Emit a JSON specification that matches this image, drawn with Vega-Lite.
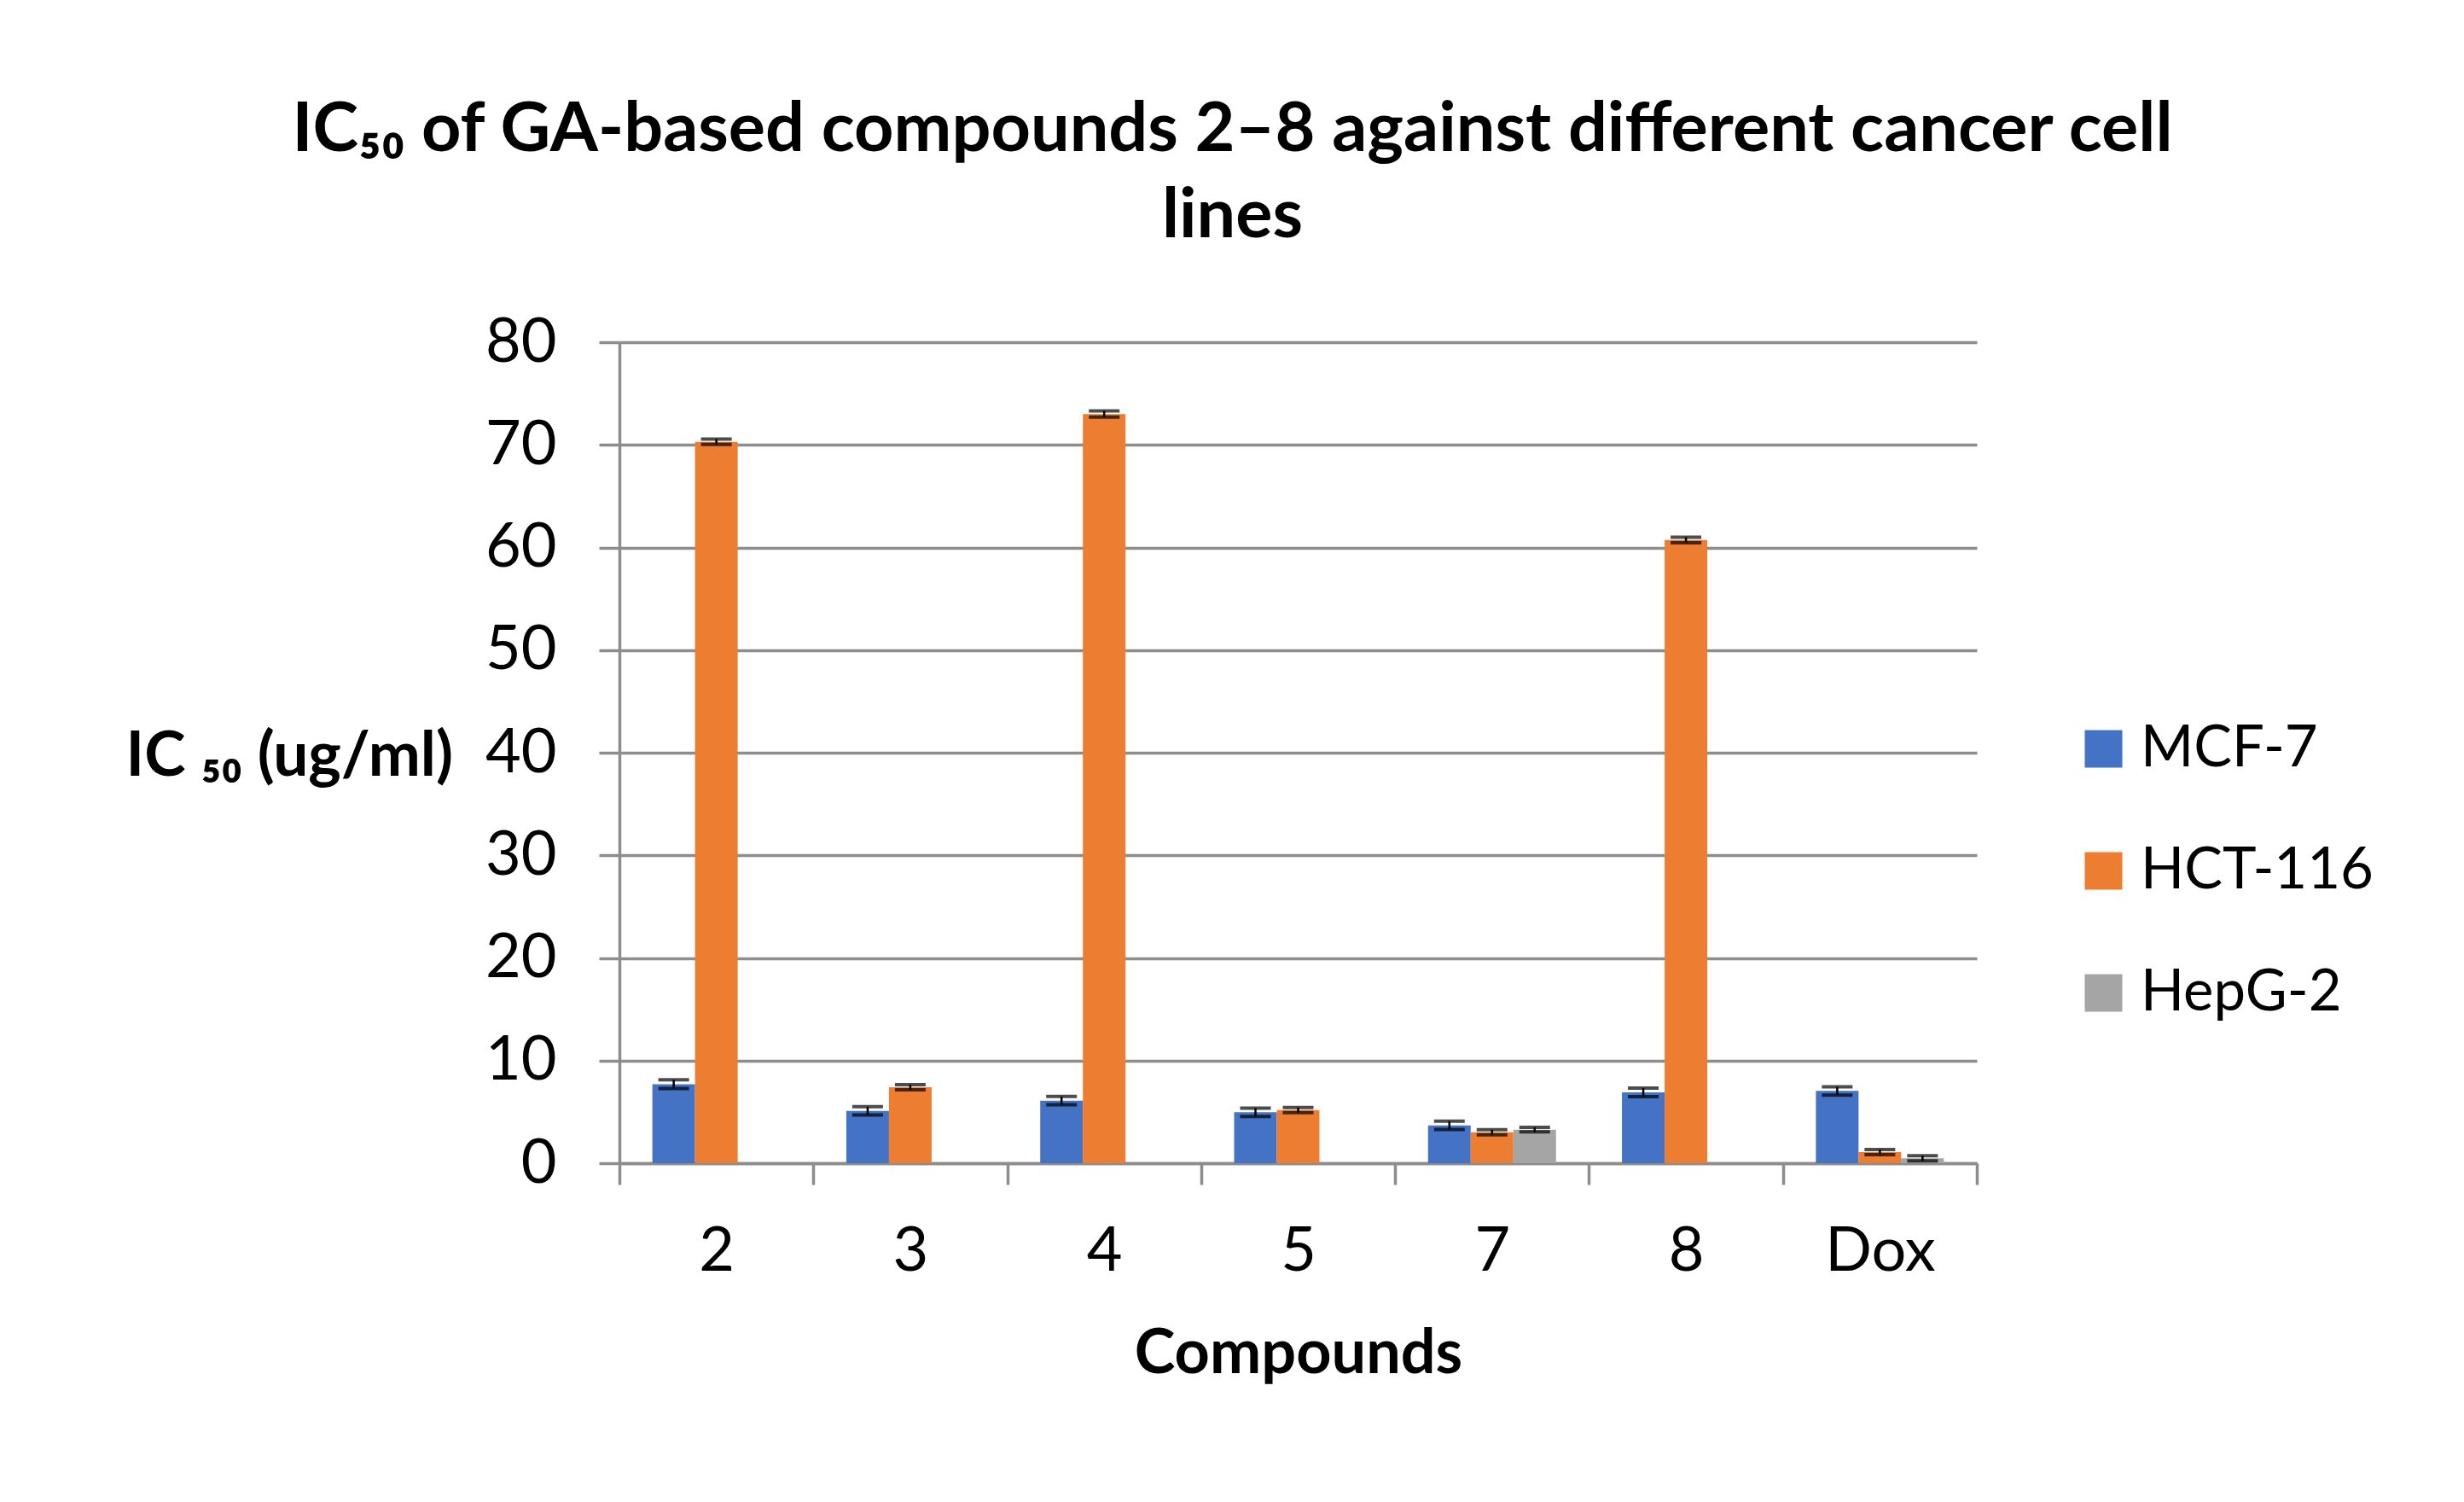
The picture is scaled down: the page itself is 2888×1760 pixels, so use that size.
{
  "$schema": "https://vega.github.io/schema/vega-lite/v6.json",
  "width": 1591,
  "height": 962,
  "autosize": {"type": "none"},
  "padding": {"left": 726, "top": 401, "right": 571, "bottom": 397},
  "background": "white",
  "title": {
    "text": ["IC₅₀ of GA-based compounds 2–8 against different cancer cell", "lines"],
    "font": "Lato",
    "fontWeight": "bold",
    "fontSize": 81,
    "lineHeight": 101,
    "color": "black",
    "anchor": "middle",
    "frame": "group",
    "dx": -77,
    "offset": 70
  },
  "data": {
    "values": [
      {"compound": "2", "line": "MCF-7", "value": 7.70, "lo": 7.28, "hi": 8.12},
      {"compound": "2", "line": "HCT-116", "value": 70.3, "lo": 70.04, "hi": 70.56},
      {"compound": "3", "line": "MCF-7", "value": 5.10, "lo": 4.70, "hi": 5.50},
      {"compound": "3", "line": "HCT-116", "value": 7.40, "lo": 7.15, "hi": 7.65},
      {"compound": "4", "line": "MCF-7", "value": 6.10, "lo": 5.70, "hi": 6.50},
      {"compound": "4", "line": "HCT-116", "value": 73.0, "lo": 72.7, "hi": 73.3},
      {"compound": "5", "line": "MCF-7", "value": 4.96, "lo": 4.56, "hi": 5.36},
      {"compound": "5", "line": "HCT-116", "value": 5.18, "lo": 4.93, "hi": 5.43},
      {"compound": "7", "line": "MCF-7", "value": 3.69, "lo": 3.29, "hi": 4.09},
      {"compound": "7", "line": "HCT-116", "value": 3.02, "lo": 2.77, "hi": 3.27},
      {"compound": "7", "line": "HepG-2", "value": 3.27, "lo": 3.05, "hi": 3.49},
      {"compound": "8", "line": "MCF-7", "value": 6.90, "lo": 6.48, "hi": 7.32},
      {"compound": "8", "line": "HCT-116", "value": 60.73, "lo": 60.46, "hi": 61.0},
      {"compound": "Dox", "line": "MCF-7", "value": 7.04, "lo": 6.64, "hi": 7.44},
      {"compound": "Dox", "line": "HCT-116", "value": 1.08, "lo": 0.83, "hi": 1.33},
      {"compound": "Dox", "line": "HepG-2", "value": 0.48, "lo": 0.23, "hi": 0.73}
    ]
  },
  "encoding": {
    "x": {
      "field": "compound",
      "type": "nominal",
      "sort": ["2", "3", "4", "5", "7", "8", "Dox"],
      "scale": {"paddingInner": 0, "paddingOuter": 0},
      "axis": {
        "title": "Compounds",
        "titleFont": "Lato",
        "titleFontWeight": "bold",
        "titleFontSize": 72,
        "titleColor": "black",
        "titleBaseline": "alphabetic",
        "titleY": 245,
        "labelAngle": 0,
        "labelFont": "Lato",
        "labelFontSize": 72,
        "labelColor": "black",
        "labelBaseline": "alphabetic",
        "labelPadding": 100,
        "tickBand": "extent",
        "tickSize": 25,
        "tickWidth": 3.5,
        "tickColor": "#8d8d8d",
        "domainColor": "#8d8d8d",
        "domainWidth": 3.5,
        "grid": false
      }
    },
    "xOffset": {
      "field": "line",
      "type": "nominal",
      "sort": ["MCF-7", "HCT-116", "HepG-2"],
      "scale": {"domain": ["MCF-7", "HCT-116", "HepG-2"], "paddingInner": 0, "paddingOuter": 0.773}
    }
  },
  "layer": [
    {
      "mark": {"type": "bar"},
      "encoding": {
        "y": {
          "field": "value",
          "type": "quantitative",
          "scale": {"domain": [0, 80], "nice": false},
          "axis": {
            "title": "IC ₅₀ (ug/ml)",
            "titleAngle": 0,
            "titleAlign": "left",
            "titleBaseline": "alphabetic",
            "titleX": -579,
            "titleY": 507,
            "titleFont": "Lato",
            "titleFontWeight": "bold",
            "titleFontSize": 73,
            "titleColor": "black",
            "values": [0, 10, 20, 30, 40, 50, 60, 70, 80],
            "labelFont": "Lato",
            "labelFontSize": 72,
            "labelColor": "black",
            "labelPadding": 50,
            "tickSize": 24,
            "tickWidth": 3.5,
            "tickColor": "#8d8d8d",
            "domainColor": "#8d8d8d",
            "domainWidth": 3.5,
            "grid": true,
            "gridColor": "#8d8d8d",
            "gridWidth": 3.5
          }
        },
        "color": {
          "field": "line",
          "type": "nominal",
          "scale": {"domain": ["MCF-7", "HCT-116", "HepG-2"], "range": ["#4472C4", "#ED7D31", "#A5A5A5"]},
          "legend": {
            "title": null,
            "orient": "none",
            "legendX": 1706,
            "legendY": 443,
            "symbolType": "square",
            "symbolSize": 1936,
            "symbolStrokeWidth": 0,
            "labelFont": "Lato",
            "labelFontSize": 67,
            "labelColor": "black",
            "labelOffset": 10,
            "labelLimit": 600,
            "rowPadding": 75,
            "padding": 0
          }
        }
      }
    },
    {
      "mark": {"type": "rule", "color": "black", "strokeWidth": 2.5},
      "encoding": {
        "y": {"field": "lo", "type": "quantitative"},
        "y2": {"field": "hi"}
      }
    },
    {
      "mark": {"type": "tick", "orient": "horizontal", "color": "black", "size": 36, "thickness": 4},
      "encoding": {"y": {"field": "lo", "type": "quantitative"}}
    },
    {
      "mark": {"type": "tick", "orient": "horizontal", "color": "black", "size": 36, "thickness": 4},
      "encoding": {"y": {"field": "hi", "type": "quantitative"}}
    }
  ],
  "config": {
    "view": {"stroke": null},
    "tick": {"bandSize": 36}
  }
}
